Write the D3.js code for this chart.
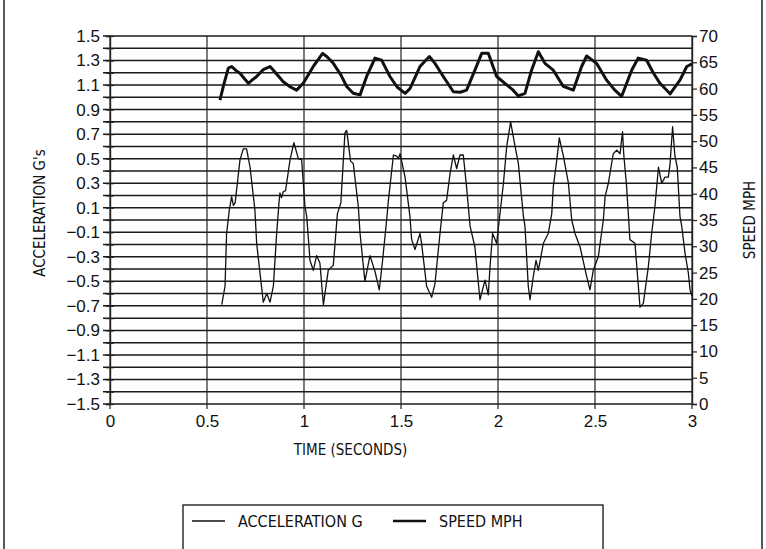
<!DOCTYPE html>
<html>
<head>
<meta charset="utf-8">
<script src="https://cdn.jsdelivr.net/npm/d3@7"></script>
<style>
  body { margin: 0; background: #fff; }
  svg { display: block; }
  text { fill: #111; }
  .narrow { font-family: 'Liberation Sans Narrow', 'DejaVu Sans Condensed', 'Arial Narrow', sans-serif; }
</style>
</head>
<body>
<svg id="chart"></svg>
<script>
// time (seconds) and acceleration (G)
const accelTime = [0.576, 0.593, 0.601, 0.615, 0.627, 0.636, 0.645, 0.67, 0.687, 0.704, 0.722, 0.747, 0.756, 0.79, 0.808, 0.825, 0.842, 0.859, 0.871, 0.876, 0.884, 0.893, 0.905, 0.928, 0.948, 0.971, 0.988, 1.005, 1.014, 1.031, 1.048, 1.065, 1.082, 1.1, 1.125, 1.151, 1.172, 1.19, 1.211, 1.22, 1.24, 1.254, 1.28, 1.289, 1.314, 1.34, 1.366, 1.388, 1.405, 1.426, 1.435, 1.461, 1.478, 1.487, 1.495, 1.521, 1.546, 1.555, 1.572, 1.598, 1.606, 1.632, 1.658, 1.675, 1.701, 1.718, 1.735, 1.753, 1.77, 1.787, 1.804, 1.821, 1.838, 1.856, 1.881, 1.907, 1.933, 1.95, 1.959, 1.972, 1.993, 2.01, 2.028, 2.045, 2.065, 2.088, 2.105, 2.131, 2.139, 2.156, 2.165, 2.182, 2.196, 2.208, 2.234, 2.259, 2.277, 2.285, 2.303, 2.316, 2.337, 2.363, 2.38, 2.397, 2.423, 2.457, 2.474, 2.491, 2.517, 2.543, 2.552, 2.569, 2.594, 2.612, 2.629, 2.642, 2.648, 2.663, 2.68, 2.706, 2.732, 2.749, 2.775, 2.792, 2.809, 2.818, 2.827, 2.844, 2.861, 2.878, 2.887, 2.9, 2.912, 2.924, 2.938, 2.947, 2.964, 2.981, 2.99, 3.0];
const accelG = [-0.69, -0.54, -0.11, 0.08, 0.19, 0.12, 0.14, 0.49, 0.58, 0.58, 0.43, 0.08, -0.19, -0.67, -0.60, -0.67, -0.54, -0.11, 0.14, 0.22, 0.18, 0.23, 0.24, 0.49, 0.63, 0.50, 0.49, 0.11, 0.03, -0.33, -0.41, -0.29, -0.35, -0.69, -0.41, -0.37, 0.05, 0.14, 0.71, 0.73, 0.48, 0.46, 0.11, -0.11, -0.50, -0.29, -0.42, -0.57, -0.33, 0.0, 0.16, 0.53, 0.52, 0.50, 0.54, 0.35, 0.03, -0.16, -0.24, -0.11, -0.19, -0.54, -0.63, -0.52, -0.11, 0.14, 0.16, 0.38, 0.53, 0.42, 0.53, 0.53, 0.27, -0.05, -0.22, -0.65, -0.49, -0.61, -0.38, -0.11, -0.19, 0.05, 0.30, 0.60, 0.80, 0.60, 0.46, 0.03, -0.05, -0.54, -0.65, -0.46, -0.33, -0.41, -0.19, -0.11, 0.05, 0.27, 0.49, 0.67, 0.52, 0.30, 0.0, -0.11, -0.22, -0.46, -0.57, -0.41, -0.30, 0.0, 0.19, 0.30, 0.54, 0.57, 0.54, 0.72, 0.54, 0.27, -0.16, -0.19, -0.71, -0.68, -0.38, -0.11, 0.11, 0.27, 0.43, 0.30, 0.35, 0.35, 0.46, 0.76, 0.52, 0.43, 0.03, -0.05, -0.27, -0.43, -0.57, -0.62];

// time (seconds) and speed (mph)
const speedTime = [0.567, 0.584, 0.61, 0.627, 0.65, 0.67, 0.69, 0.713, 0.735, 0.756, 0.79, 0.825, 0.842, 0.87, 0.893, 0.93, 0.962, 0.996, 1.048, 1.096, 1.12, 1.151, 1.19, 1.22, 1.254, 1.289, 1.323, 1.366, 1.4, 1.443, 1.48, 1.521, 1.546, 1.575, 1.598, 1.646, 1.675, 1.718, 1.77, 1.805, 1.838, 1.881, 1.916, 1.95, 1.993, 2.045, 2.075, 2.105, 2.139, 2.173, 2.208, 2.242, 2.285, 2.337, 2.388, 2.431, 2.457, 2.508, 2.56, 2.6, 2.637, 2.689, 2.723, 2.766, 2.8, 2.835, 2.887, 2.938, 2.973, 3.0];
const speedMph = [57.8, 60.4, 63.9, 64.2, 63.4, 62.9, 62.0, 61.0, 61.7, 62.3, 63.6, 64.2, 63.5, 62.3, 61.3, 60.3, 59.7, 61.0, 64.2, 66.7, 66.0, 64.8, 62.6, 60.4, 59.1, 58.8, 62.3, 65.8, 65.4, 62.3, 60.3, 59.1, 60.0, 62.3, 64.2, 66.1, 64.8, 62.3, 59.4, 59.3, 59.7, 63.5, 66.7, 66.7, 62.3, 60.7, 59.8, 58.6, 59.1, 63.5, 67.0, 64.8, 63.5, 60.4, 59.7, 64.2, 66.2, 64.8, 61.6, 59.8, 58.5, 63.5, 65.8, 65.4, 63.0, 61.0, 59.0, 61.6, 64.2, 64.7];

const timeTicks = [0, 0.5, 1, 1.5, 2, 2.5, 3];
const accelTicks = d3.range(-15, 16, 2).map(d => d / 10);
const speedTicks = d3.range(0, 71, 5);

const width = 766, height = 549;
const margin = { top: 36, right: 74, bottom: 145, left: 110 };

const svg = d3.select('#chart')
  .attr('width', width)
  .attr('height', height)
  .style('font-family', "'Liberation Sans', Arial, sans-serif");

const x = d3.scaleLinear().domain([0, 3]).range([margin.left, width - margin.right]);
const yA = d3.scaleLinear().domain([-1.5, 1.5]).range([height - margin.bottom, margin.top]);
const yS = d3.scaleLinear().domain([0, 70]).range([height - margin.bottom, margin.top]);

// outer frame of the page
svg.append('line').attr('x1', 4).attr('x2', 4).attr('y1', 0).attr('y2', height).attr('stroke', '#222').attr('stroke-width', 1.5);
svg.append('line').attr('x1', 762).attr('x2', 762).attr('y1', 0).attr('y2', height).attr('stroke', '#222').attr('stroke-width', 1.5);

// horizontal grid every 0.1 G
const grid = svg.append('g');
grid.selectAll('line.h')
  .data(d3.range(-15, 16).map(d => d / 10))
  .join('line')
  .attr('class', 'h')
  .attr('x1', x(0) - 7)
  .attr('x2', x(3))
  .attr('y1', d => yA(d))
  .attr('y2', d => yA(d))
  .attr('stroke', '#1a1a1a')
  .attr('stroke-width', 1.5);

// vertical grid every 0.5 s
grid.selectAll('line.v')
  .data(timeTicks)
  .join('line')
  .attr('class', 'v')
  .attr('x1', d => x(d))
  .attr('x2', d => x(d))
  .attr('y1', yA(1.5))
  .attr('y2', yA(-1.5) + 5)
  .attr('stroke', '#222')
  .attr('stroke-width', 1.2);

// left axis
const leftAxis = d3.axisLeft(yA)
  .tickValues(d3.range(-15, 16).map(d => d / 10))
  .tickSize(4)
  .tickFormat(d => accelTicks.some(t => Math.abs(t - d) < 1e-9) ? d3.format('.1f')(d).replace('-', '\u2212') : '');
const gl = svg.append('g').attr('transform', `translate(${x(0)},0)`).call(leftAxis);
gl.select('.domain').attr('stroke', '#222').attr('stroke-width', 1.4);
gl.selectAll('.tick line').attr('x2', 4).attr('x1', -4).attr('stroke', '#222').attr('stroke-width', 1.2);
gl.selectAll('.tick text').attr('x', -10).style('font-size', '17px').attr('fill', '#111');

// right axis
const rightAxis = d3.axisRight(yS).tickValues(speedTicks).tickSize(5).tickFormat(d3.format('d'));
const gr = svg.append('g').attr('transform', `translate(${x(3)},0)`).call(rightAxis);
gr.select('.domain').attr('stroke', '#222').attr('stroke-width', 1.4);
gr.selectAll('.tick line').attr('stroke', '#222').attr('stroke-width', 1.2);
gr.selectAll('.tick text').attr('x', 7).style('font-size', '17px').attr('fill', '#111');

// bottom axis
const bottomAxis = d3.axisBottom(x).tickValues(timeTicks).tickSize(0).tickFormat(d3.format('~g'));
const gb = svg.append('g').attr('transform', `translate(0,${yA(-1.5)})`).call(bottomAxis);
gb.select('.domain').remove();
gb.selectAll('.tick text').attr('y', 11).style('font-size', '17px').attr('fill', '#111');

// axis titles
svg.append('text')
  .attr('class', 'narrow')
  .attr('transform', `translate(45,${yA(0) - 7}) rotate(-90)`)
  .attr('text-anchor', 'middle')
  .style('font-size', '15px')
  .text("ACCELERATION  G's");

svg.append('text')
  .attr('class', 'narrow')
  .attr('transform', `translate(755,${yA(0)}) rotate(-90)`)
  .attr('text-anchor', 'middle')
  .style('font-size', '15px')
  .text('SPEED  MPH');

svg.append('text')
  .attr('class', 'narrow')
  .attr('x', x(1.24))
  .attr('y', 455)
  .attr('text-anchor', 'middle')
  .style('font-size', '15px')
  .text('TIME (SECONDS)');

// traces
const accelLine = d3.line().x(d => x(d[0])).y(d => yA(d[1]));
const speedLine = d3.line().x(d => x(d[0])).y(d => yS(d[1]));

svg.append('path')
  .datum(d3.zip(speedTime, speedMph))
  .attr('d', speedLine)
  .attr('fill', 'none')
  .attr('stroke', '#111')
  .attr('stroke-width', 3)
  .attr('stroke-linejoin', 'round');

svg.append('path')
  .datum(d3.zip(accelTime, accelG))
  .attr('d', accelLine)
  .attr('fill', 'none')
  .attr('stroke', '#111')
  .attr('stroke-width', 1.3)
  .attr('stroke-linejoin', 'round');

// legend
const legend = svg.append('g');
legend.append('rect')
  .attr('x', 183).attr('y', 505).attr('width', 420).attr('height', 46)
  .attr('fill', 'none').attr('stroke', '#222').attr('stroke-width', 1.4);
const items = [
  { label: 'ACCELERATION G', x0: 192, w: 1.3 },
  { label: 'SPEED MPH', x0: 393, w: 2.5 }
];
items.forEach(it => {
  legend.append('line')
    .attr('x1', it.x0).attr('x2', it.x0 + 33)
    .attr('y1', 521).attr('y2', 521)
    .attr('stroke', '#111').attr('stroke-width', it.w);
  legend.append('text')
    .attr('class', 'narrow')
    .attr('x', it.x0 + 46).attr('y', 527)
    .style('font-size', '16px')
    .text(it.label);
});
</script>
</body>
</html>
